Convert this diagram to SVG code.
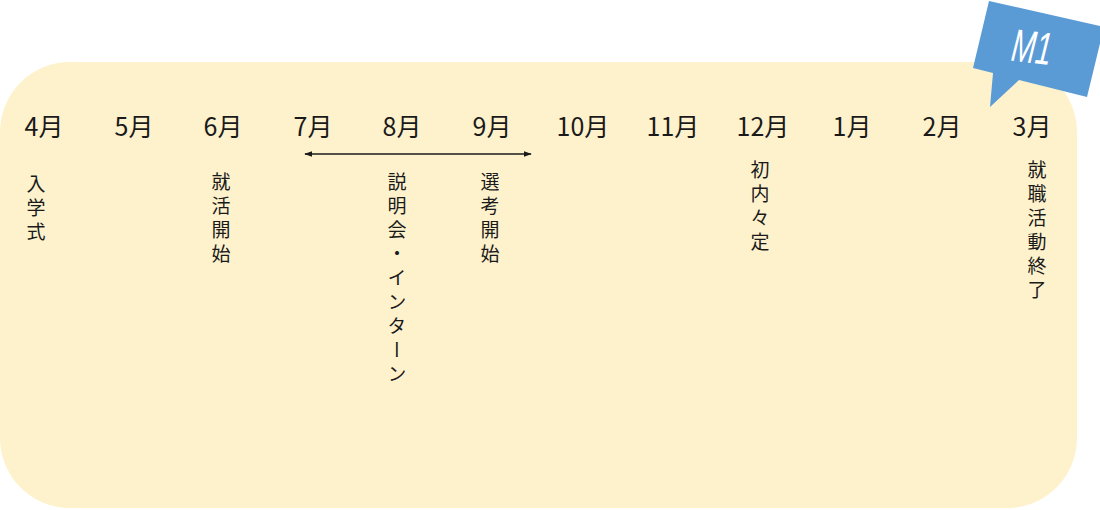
<svg xmlns="http://www.w3.org/2000/svg" width="1100" height="510" viewBox="0 0 1100 510">
<defs>
<style>
.month{font-family:"Noto Sans CJK JP","Noto Sans",sans-serif;font-size:25px;fill:#1a1a1a;text-anchor:middle;dominant-baseline:central}
.vt{font-family:"Noto Sans CJK JP",sans-serif;font-size:19px;fill:#1a1a1a;writing-mode:vertical-rl;letter-spacing:5px}
.tag{font-family:"Liberation Sans",sans-serif;font-style:italic;font-size:46px;fill:#ffffff;text-anchor:middle}
</style>
<marker id="ah" viewBox="0 0 10 10" refX="9" refY="5" markerWidth="8" markerHeight="8" orient="auto-start-reverse" markerUnits="userSpaceOnUse">
<path d="M0,1.5 L10,5 L0,8.5 Z" fill="#1a1a1a"/>
</marker>
</defs>
<rect id="panel" x="0" y="62" width="1077" height="446" rx="70" ry="70" fill="#fef2cd"/>
<g id="tag-m1">
<polygon points="989,1 1104,27 1087,97 1019,80 990,107 993,73 973,68" fill="#5b9bd5"/>
<text class="tag" x="1032" y="63" transform="rotate(7 1032 47)" textLength="40" lengthAdjust="spacingAndGlyphs">M1</text>
</g>
<g id="months">
<text class="month" x="44" y="125">4月</text>
<text class="month" x="134" y="125">5月</text>
<text class="month" x="223" y="125">6月</text>
<text class="month" x="313" y="125">7月</text>
<text class="month" x="402" y="125">8月</text>
<text class="month" x="492" y="125">9月</text>
<text class="month" x="583" y="125">10月</text>
<text class="month" x="673" y="125">11月</text>
<text class="month" x="763" y="125">12月</text>
<text class="month" x="852" y="125">1月</text>
<text class="month" x="942" y="125">2月</text>
<text class="month" x="1032" y="125">3月</text>
</g>
<g id="connectors">
<line x1="305" y1="154" x2="531" y2="154" stroke="#1a1a1a" stroke-width="1.5" marker-start="url(#ah)" marker-end="url(#ah)"/>
</g>
<g id="event-nyugaku"><text class="vt" x="36" y="174">入学式</text></g>
<g id="event-shukatsu"><text class="vt" x="221" y="172">就活開始</text></g>
<g id="event-setsumeikai"><text class="vt" x="397" y="172">説明会・インターン</text></g>
<g id="event-senko"><text class="vt" x="490" y="172">選考開始</text></g>
<g id="event-naitei"><text class="vt" x="760" y="160">初内々定</text></g>
<g id="event-shuryo"><text class="vt" x="1037" y="160">就職活動終了</text></g>
</svg>
